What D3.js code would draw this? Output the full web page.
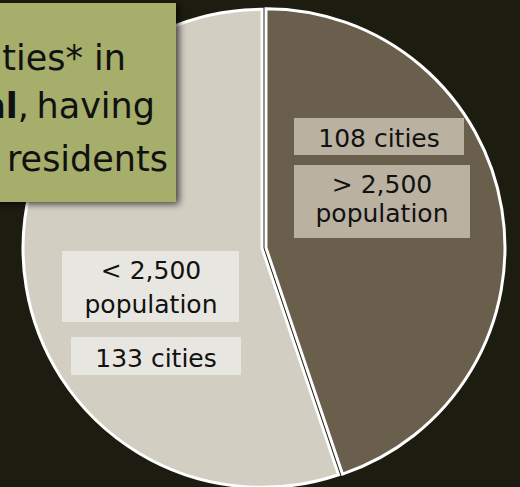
<!DOCTYPE html>
<html><head><meta charset="utf-8">
<script src="https://cdn.jsdelivr.net/npm/d3@7"></script>
<style>html,body{margin:0;padding:0;background:#1c1c10;overflow:hidden}</style>
</head><body>
<svg id="c" width="520" height="487"></svg>
<script>
// Data
const categories = ["> 2,500 population", "< 2,500 population"];
const cityCounts = [108, 133];
const sliceColors = ["#6a5e4c", "#d3cec2"];
const labelBoxColors = ["#bab1a1", "#e8e6e0"];
const countLabels = ["108 cities", "133 cities"];
// title fragments: [[text, bold]...], right-edge x, baseline y
const titleParts = [
  [[["ties* in", false]], 126, 70],
  [[["al", true], [",", false]], 29, 118],
  [[["having", false]], 155, 118],
  [[["residents", false]], 168, 171]
];

const W = 520, H = 487;
const svg = d3.select("#c");
svg.append("rect").attr("width", W).attr("height", H).attr("fill", "#1c1c10");

const cx = 264, cy = 248, r = 239, explode = 2;
const pie = d3.pie().sort(null).startAngle(0).endAngle(2 * Math.PI)(cityCounts);
const arc = d3.arc().innerRadius(0).outerRadius(r);

const g = svg.append("g").attr("transform", `translate(${cx},${cy})`);
g.selectAll("path").data(pie).join("path")
  .attr("d", arc)
  .attr("fill", (d, i) => sliceColors[i])
  .attr("stroke", "#ffffff")
  .attr("stroke-width", 3)
  .attr("stroke-linejoin", "miter")
  .attr("transform", d => {
    const a = (d.startAngle + d.endAngle) / 2;
    return `translate(${explode * Math.sin(a)},${-explode * Math.cos(a)})`;
  });

// label boxes (annotation layout)
const font = "'DejaVu Sans', Verdana, sans-serif";
function box(x, y, w, h, fill, lines, tx, baselines) {
  svg.append("rect").attr("x", x).attr("y", y).attr("width", w).attr("height", h).attr("fill", fill);
  lines.forEach((t, k) => {
    svg.append("text").attr("x", tx).attr("y", baselines[k])
      .attr("text-anchor", "middle").attr("font-family", font).attr("font-size", 25)
      .attr("fill", "#111").text(t);
  });
}
const split = s => s.split(" p").map((x, i) => i ? "p" + x : x);
box(294, 118, 170, 37, labelBoxColors[0], [countLabels[0]], 379, [147]);
box(294, 165, 176, 73, labelBoxColors[0], split(categories[0]), 382, [193, 222]);
box(62, 251, 177, 71, labelBoxColors[1], split(categories[1]), 151, [279, 313]);
box(71, 337, 170, 38, labelBoxColors[1], [countLabels[1]], 156, [367]);

// title box (partially off-canvas)
const defs = svg.append("defs");
const f = defs.append("filter").attr("id", "sh").attr("x", "-20%").attr("y", "-20%").attr("width", "140%").attr("height", "140%");
f.append("feDropShadow").attr("dx", 3).attr("dy", 2).attr("stdDeviation", 3.5)
  .attr("flood-color", "#000").attr("flood-opacity", 0.7);
svg.append("rect").attr("x", -20).attr("y", 3).attr("width", 196).attr("height", 199)
  .attr("fill", "#a5ae6b").attr("filter", "url(#sh)");

titleParts.forEach(([parts, x, y]) => {
  const t = svg.append("text").attr("x", x).attr("y", y)
    .attr("text-anchor", "end").attr("font-family", font).attr("font-size", 35).attr("fill", "#111");
  parts.forEach(([s, bold]) => t.append("tspan").attr("font-weight", bold ? "bold" : "normal").text(s));
});
</script>
</body></html>
